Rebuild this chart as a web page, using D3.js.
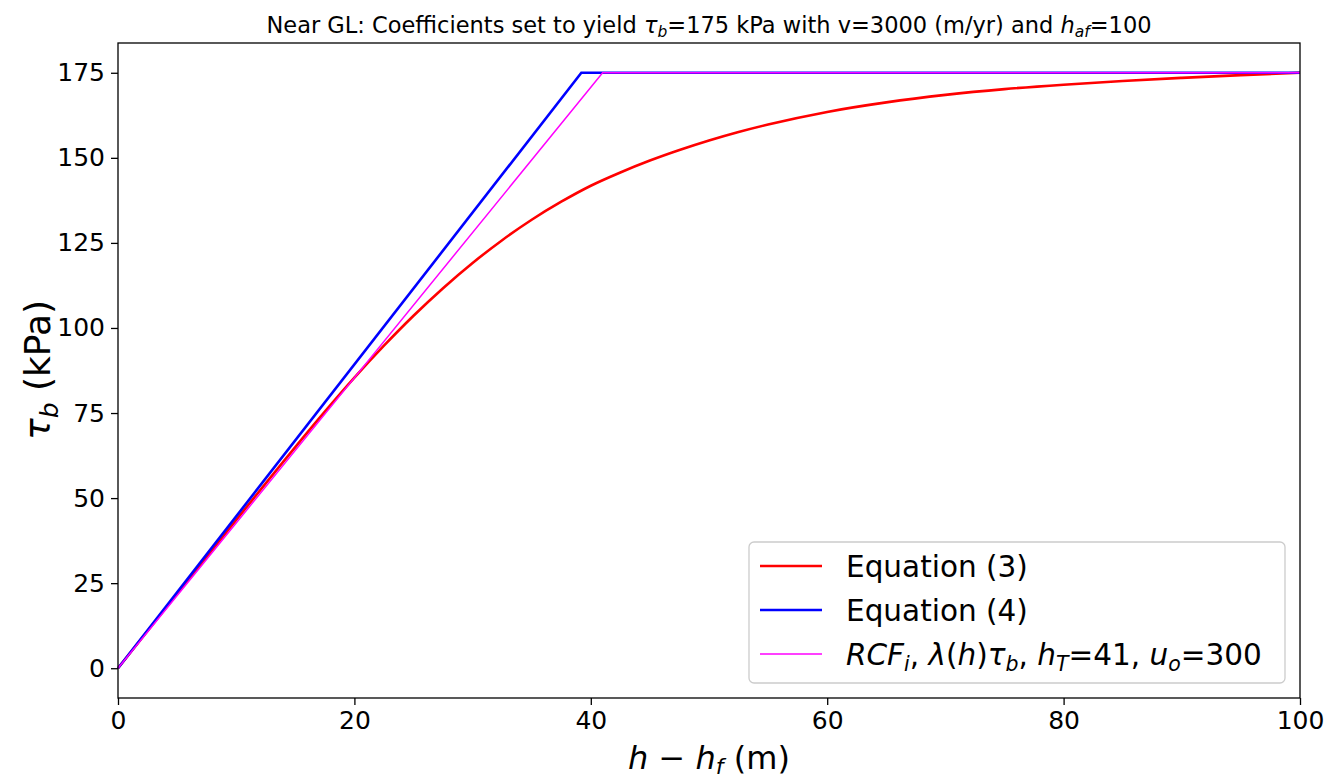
<!DOCTYPE html>
<html lang="en">
<head>
	<meta charset="UTF-8">
	<title>near GL tau b</title>
	<style>
		body { margin: 0; background: #fff; }
		text { font-family: "DejaVu Sans", sans-serif; fill: #000; }
	</style>
</head>
<body>
	<svg id="container" width="1328" height="780"></svg>
</body>
<script src="https://cdn.jsdelivr.net/npm/d3@7"></script>
<script>
	// values
	let eq3_h = [0, 5, 10, 15, 17.5, 20, 22.5, 25, 27.5, 30, 32.5, 35, 37.5, 40, 42.5, 45, 47.5, 50, 52.5, 55, 60, 65, 70, 75, 80, 85, 90, 95, 100];
	let eq3_tau = [0, 21.9, 43.6, 65.0, 75.4, 85.4, 94.8, 103.6, 111.7, 119.1, 125.8, 131.8, 137.1, 141.8, 145.7, 149.2, 152.3, 155.1, 157.6, 159.8, 163.5, 166.3, 168.5, 170.2, 171.5, 172.6, 173.5, 174.3, 175];
	let eq4_h = [0, 39.2, 100];
	let eq4_tau = [0, 175, 175];
	let rcf_h = [0, 41, 100];
	let rcf_tau = [0, 175, 175];
	let xTicks = [0, 20, 40, 60, 80, 100];
	let yTicks = [0, 25, 50, 75, 100, 125, 150, 175];

	let mLeft = 118, mRight = 1300, mTop = 43, mBottom = 698;
	let svg = d3.select("#container");

	let x = d3.scaleLinear().domain([0, 100]).range([mLeft, mRight]);
	let y = d3.scaleLinear().domain([-8.75, 183.75]).range([mBottom, mTop]);

	function pts(hs, ts) {
		return hs.map((h, i) => [h, ts[i]]);
	}

	let line = d3.line()
		.x(d => x(d[0]))
		.y(d => y(d[1]));

	let plot = svg.append("g");
	plot.append("path")
		.datum(pts(eq3_h, eq3_tau))
		.attr("d", line.curve(d3.curveMonotoneX))
		.attr("fill", "none")
		.attr("stroke", "#ff0000")
		.attr("stroke-width", 2.6);
	plot.append("path")
		.datum(pts(eq4_h, eq4_tau))
		.attr("d", line.curve(d3.curveLinear))
		.attr("fill", "none")
		.attr("stroke", "#0000ff")
		.attr("stroke-width", 2.6);
	plot.append("path")
		.datum(pts(rcf_h, rcf_tau))
		.attr("d", line.curve(d3.curveLinear))
		.attr("fill", "none")
		.attr("stroke", "#ff00ff")
		.attr("stroke-width", 1.5);

	// axes
	let xAxis = svg.append("g")
		.attr("transform", `translate(0,${mBottom})`)
		.call(d3.axisBottom(x).tickValues(xTicks).tickSize(7).tickPadding(6));
	let yAxis = svg.append("g")
		.attr("transform", `translate(${mLeft},0)`)
		.call(d3.axisLeft(y).tickValues(yTicks).tickSize(7).tickPadding(6));
	[xAxis, yAxis].forEach(a => {
		a.selectAll(".domain").remove();
		a.selectAll("line").attr("stroke", "#000").attr("stroke-width", 1.3);
		a.selectAll("text").attr("font-size", 25).attr("font-family", "DejaVu Sans").attr("fill", "#000");
	});

	svg.append("rect")
		.attr("x", mLeft).attr("y", mTop)
		.attr("width", mRight - mLeft).attr("height", mBottom - mTop)
		.attr("fill", "none")
		.attr("stroke", "#000")
		.attr("stroke-width", 1.3);

	// title
	let title = svg.append("text")
		.attr("x", (mLeft + mRight) / 2)
		.attr("y", 33)
		.attr("text-anchor", "middle")
		.attr("font-size", 22.5);
	title.append("tspan").text("Near GL: Coefficients set to yield ");
	title.append("tspan").attr("font-style", "italic").text("τ");
	title.append("tspan").attr("font-style", "italic").attr("font-size", 15.5).attr("dy", 4).text("b");
	title.append("tspan").attr("dy", -4).text("=175 kPa with v=3000 (m/yr) and ");
	title.append("tspan").attr("font-style", "italic").text("h");
	title.append("tspan").attr("font-style", "italic").attr("font-size", 15.5).attr("dy", 4).text("af");
	title.append("tspan").attr("dy", -4).text("=100");

	// axis labels
	let xl = svg.append("text")
		.attr("x", (mLeft + mRight) / 2)
		.attr("y", 769)
		.attr("text-anchor", "middle")
		.attr("font-size", 32);
	xl.append("tspan").attr("font-style", "italic").text("h");
	xl.append("tspan").text(" − ");
	xl.append("tspan").attr("font-style", "italic").text("h");
	xl.append("tspan").attr("font-style", "italic").attr("font-size", 22).attr("dy", 5).text("f");
	xl.append("tspan").attr("dy", -5).text(" (m)");

	let yl = svg.append("text")
		.attr("transform", "translate(50,370) rotate(-90)")
		.attr("text-anchor", "middle")
		.attr("font-size", 36);
	yl.append("tspan").attr("font-style", "italic").text("τ");
	yl.append("tspan").attr("font-style", "italic").attr("font-size", 25).attr("dy", 8).text("b");
	yl.append("tspan").attr("dy", -8).text(" (kPa)");

	// legend
	let lg = svg.append("g");
	lg.append("rect")
		.attr("x", 749).attr("y", 542)
		.attr("width", 536).attr("height", 141)
		.attr("rx", 5)
		.attr("fill", "#fff").attr("fill-opacity", 0.8)
		.attr("stroke", "#cccccc").attr("stroke-width", 1.3);
	let items = [
		{color: "#ff0000", w: 2.6},
		{color: "#0000ff", w: 2.6},
		{color: "#ff00ff", w: 1.5}
	];
	items.forEach((it, i) => {
		let yy = 566 + i * 44;
		lg.append("line")
			.attr("x1", 760).attr("x2", 822)
			.attr("y1", yy).attr("y2", yy)
			.attr("stroke", it.color).attr("stroke-width", it.w);
	});
	let fs = 29.5, sub = 20.5;
	lg.append("text").attr("x", 846).attr("y", 577).attr("font-size", fs).text("Equation (3)");
	lg.append("text").attr("x", 846).attr("y", 621).attr("font-size", fs).text("Equation (4)");
	let t3 = lg.append("text").attr("x", 846).attr("y", 665).attr("font-size", fs);
	t3.append("tspan").attr("font-style", "italic").text("RCF");
	t3.append("tspan").attr("font-style", "italic").attr("font-size", sub).attr("dy", 6).text("i");
	t3.append("tspan").attr("dy", -6).text(", ");
	t3.append("tspan").attr("font-style", "italic").text("λ");
	t3.append("tspan").text("(");
	t3.append("tspan").attr("font-style", "italic").text("h");
	t3.append("tspan").text(")");
	t3.append("tspan").attr("font-style", "italic").text("τ");
	t3.append("tspan").attr("font-style", "italic").attr("font-size", sub).attr("dy", 6).text("b");
	t3.append("tspan").attr("dy", -6).text(", ");
	t3.append("tspan").attr("font-style", "italic").text("h");
	t3.append("tspan").attr("font-style", "italic").attr("font-size", sub).attr("dy", 6).text("T");
	t3.append("tspan").attr("dy", -6).text("=41, ");
	t3.append("tspan").attr("font-style", "italic").text("u");
	t3.append("tspan").attr("font-style", "italic").attr("font-size", sub).attr("dy", 6).text("o");
	t3.append("tspan").attr("dy", -6).text("=300");
</script>
</html>
